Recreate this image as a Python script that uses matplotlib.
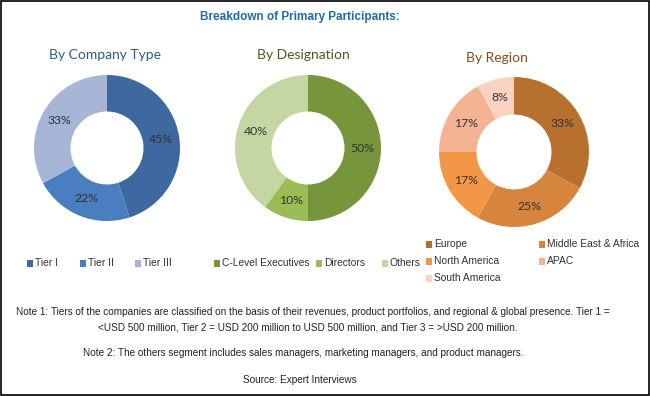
import matplotlib
matplotlib.use("Agg")
import matplotlib.pyplot as plt
from matplotlib.patches import Rectangle

# data
company_labels = ["Tier I", "Tier II", "Tier III"]
company_vals = [45, 22, 33]
company_colors = ["#3D68A0", "#4A7EC0", "#A7B6D6"]

desig_labels = ["C-Level Executives", "Directors", "Others"]
desig_vals = [50, 10, 40]
desig_colors = ["#77953A", "#9BBD55", "#C4D6A2"]

region_labels = ["Europe", "Middle East & Africa", "North America", "APAC", "South America"]
region_vals = [33, 25, 17, 17, 8]
region_colors = ["#B8702F", "#D6843E", "#F39747", "#F4B393", "#F9D2C1"]

W, H = 650, 396
fig = plt.figure(figsize=(6.5, 3.96), dpi=100)
fig.patch.set_facecolor("white")
plt.rcParams['font.family'] = ['Liberation Sans', 'DejaVu Sans']
title_font = ['Lato', 'Liberation Sans', 'DejaVu Sans']

# frame
fig.patches.append(Rectangle((0.0015, 0.002), 0.997, 0.996, transform=fig.transFigure,
                             fill=False, edgecolor="black", linewidth=1.2))


def donut(cx, cy, r, vals, colors):
    ax = fig.add_axes([(cx - r) / W, (H - cy - r) / H, 2 * r / W, 2 * r / H])
    ax.pie(vals, colors=colors, startangle=90, counterclock=False,
           radius=1, wedgeprops=dict(width=0.5, edgecolor="none"),
           labels=[f"{v}%" for v in vals], labeldistance=0.75,
           textprops=dict(fontsize=8.8, color="#333333", ha="center", va="center",
                          family=title_font))
    ax.set_xlim(-1, 1)
    ax.set_ylim(-1, 1)
    ax.set_aspect("equal")
    ax.axis("off")
    return ax


donut(107, 148, 73, company_vals, company_colors)
donut(308, 148, 73, desig_vals, desig_colors)
donut(514, 152, 75, region_vals, region_colors)


def ftext(x, y, s, **kw):
    fig.text(x / W, 1 - y / H, s, **kw)


ftext(300, 17, "Breakdown of Primary Participants:", ha="center", va="center",
      fontsize=8.5, fontweight="bold", color="#1F6CA8")
ftext(105, 55, "By Company Type", ha="center", va="center", fontsize=10, color="#2E5A8C",
      family=title_font)
ftext(303, 55, "By Designation", ha="center", va="center", fontsize=10, color="#4A5A26",
      family=title_font)
ftext(497, 58, "By Region", ha="center", va="center", fontsize=10, color="#8A4A1E",
      family=title_font)


def legend_item(x, y, label, color):
    fig.patches.append(Rectangle((x / W, 1 - (y + 3.5) / H), 6 / W, 7 / H,
                                 transform=fig.transFigure, facecolor=color, edgecolor="none"))
    ftext(x + 8, y, label, ha="left", va="center", fontsize=7.4, color="#333333")


# company legend
for x, lab, c in zip([27, 80, 135], company_labels, company_colors):
    legend_item(x, 263, lab, c)
# designation legend
for x, lab, c in zip([214, 316, 382], desig_labels, desig_colors):
    legend_item(x, 263, lab, c)
# region legend (2 columns)
reg_pos = [(426, 244), (539, 244), (426, 261), (539, 261), (426, 278)]
for (x, y), lab, c in zip(reg_pos, region_labels, region_colors):
    legend_item(x, y, lab, c)

note_kw = dict(ha="center", va="center", fontsize=7.2, color="#222222")
ftext(313, 312, "Note 1: Tiers of the companies are classified on the basis of their revenues, "
      "product portfolios, and regional & global presence. Tier 1 =", **note_kw)
ftext(308, 328, "<USD 500 million, Tier 2 = USD 200 million to USD 500 million, "
      "and Tier 3 = >USD 200 million.", **note_kw)
ftext(303, 353, "Note 2: The others segment includes sales managers, marketing managers, "
      "and product managers.", **note_kw)
ftext(300, 380, "Source: Expert Interviews", **note_kw)

fig.savefig("out.png", dpi=100, facecolor="white")
